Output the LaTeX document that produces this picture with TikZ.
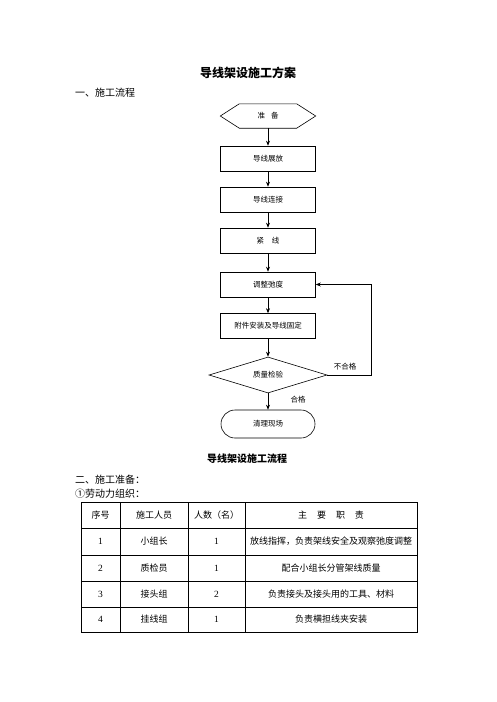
\documentclass[tikz,border=0pt]{standalone}
\usepackage{fontspec}
\setmainfont{Liberation Serif}
\newfontfamily\cjk{Noto Sans CJK SC}
\usetikzlibrary{arrows.meta,shapes.geometric}
\begin{document}
\begin{tikzpicture}[x=1pt,y=-1pt,
  every node/.style={font=\cjk, inner sep=0pt},
  flowfont/.style={font=\cjk\fontsize{7.5}{9}\selectfont},
  flowbox/.style={draw, line width=0.6pt, minimum width=95pt, minimum height=25pt, inner sep=0pt, flowfont},
  arr/.style={line width=0.6pt, -{Stealth[length=5pt,width=4pt]}},
  headfont/.style={font=\cjk\fontsize{10}{12}\selectfont},
  cellfont/.style={font=\cjk\fontsize{9}{11}\selectfont},
  numfont/.style={font=\rmfamily\fontsize{9.5}{11}\selectfont},
  grid/.style={line width=0.8pt}
]
\fill[white] (0,0) rectangle (496,702);
\useasboundingbox (0,0) rectangle (496,702);

% headings
\node[font=\cjk\bfseries\fontsize{12}{14}\selectfont] (title) at (248,73) {导线架设施工方案};
\node[headfont, anchor=west] (sec1) at (75,93) {一、施工流程};

% flowchart
\node[minimum width=95pt, minimum height=24pt, flowfont] (prep) at (268,116) {准\hspace{6pt}备};
\draw[line width=0.6pt] (prep.west) -- ([xshift=19pt]prep.north west) -- ([xshift=-19pt]prep.north east)
  -- (prep.east) -- ([xshift=-19pt]prep.south east) -- ([xshift=19pt]prep.south west) -- cycle;
\node[flowbox] (spread) at (268,158.5) {导线展放};
\node[flowbox] (join) at (268,199.5) {导线连接};
\node[flowbox] (tight) at (268,240.5) {紧\hspace{8pt}线};
\node[flowbox] (adjust) at (268,284.5) {调整弛度};
\node[flowbox] (fix) at (268,326) {附件安装及导线固定};
\node[diamond, draw, line width=0.6pt, minimum width=118pt, minimum height=36pt, aspect=3.3, flowfont] (check) at (268,375) {质量检验};
\node[draw, line width=0.6pt, rounded corners=14pt, minimum width=94pt, minimum height=28pt, flowfont] (clean) at (268,424) {清理现场};

\draw[arr] (prep.south) -- (spread.north);
\draw[arr] (spread.south) -- (join.north);
\draw[arr] (join.south) -- (tight.north);
\draw[arr] (tight.south) -- (adjust.north);
\draw[arr] (adjust.south) -- (fix.north);
\draw[arr] (fix.south) -- (check.north);
\draw[arr] (check.south) -- (clean.north);
\draw[arr] (check.east) -- ++(44,0) |- (adjust.east);

\node[flowfont] (fail) at (345,367) {不合格};
\node[flowfont] (pass) at (298,400) {合格};

\node[font=\cjk\bfseries\fontsize{10}{12}\selectfont] (ftitle) at (247,459) {导线架设施工流程};
\node[headfont, anchor=west] (sec2) at (75,480) {二、施工准备：};
\node[headfont, anchor=west] (sec2a) at (75,494) {①劳动力组织：};

% table
\draw[grid] (81,502) rectangle (417,632);
\foreach \yy in {528,555,581,607} \draw[grid] (81,\yy) -- (417,\yy);
\foreach \xx in {120,188,245} \draw[grid] (\xx,502) -- (\xx,632);

\node[cellfont] (h1) at (100.5,515) {序号};
\node[cellfont] (h2) at (154,515) {施工人员};
\node[cellfont] (h3) at (216.5,515) {人数（名）};
\node[cellfont] (h4) at (331,515) {主\hspace{10pt}要\hspace{10pt}职\hspace{10pt}责};

\node[numfont] (a1) at (100.5,541.5) {1};
\node[cellfont] (b1) at (154,541.5) {小组长};
\node[numfont] (c1) at (216.5,541.5) {1};
\node[cellfont] (d1) at (331,541.5) {放线指挥，负责架线安全及观察弛度调整};

\node[numfont] (a2) at (100.5,568) {2};
\node[cellfont] (b2) at (154,568) {质检员};
\node[numfont] (c2) at (216.5,568) {1};
\node[cellfont] (d2) at (331,568) {配合小组长分管架线质量};

\node[numfont] (a3) at (100.5,594) {3};
\node[cellfont] (b3) at (154,594) {接头组};
\node[numfont] (c3) at (216.5,594) {2};
\node[cellfont] (d3) at (331,594) {负责接头及接头用的工具、材料};

\node[numfont] (a4) at (100.5,619.5) {4};
\node[cellfont] (b4) at (154,619.5) {挂线组};
\node[numfont] (c4) at (216.5,619.5) {1};
\node[cellfont] (d4) at (331,619.5) {负责横担线夹安装};
\end{tikzpicture}
\end{document}
